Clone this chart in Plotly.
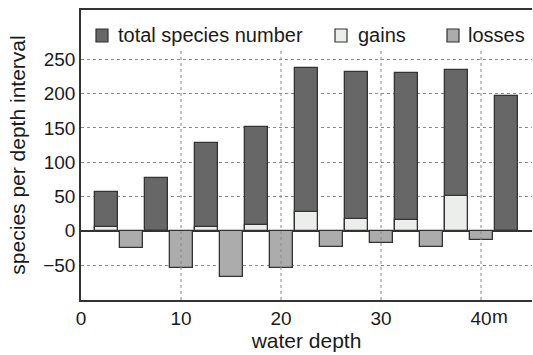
import plotly.graph_objects as go

# depth positions (m)
total_depth = [2.5, 7.5, 12.5, 17.5, 22.5, 27.5, 32.5, 37.5, 42.5]
total_species = [57, 77, 128, 151, 238, 231, 230, 234, 197]
gains = [5, 0, 6, 9, 28, 17, 15, 50, 0]
loss_depth = [5, 10, 15, 20, 25, 30, 35, 40]
losses = [-25, -54, -68, -55, -24, -18, -23, -14]

x_ticks = [0, 10, 20, 30, 40]
x_ticktext = ["0", "10", "20", "30", "40"]
y_ticks = [-50, 0, 50, 100, 150, 200, 250]

series_names = ["total species number", "gains", "losses"]
series_colors = ["#676767", "#eceeec", "#acacac"]

FONT = "Liberation Sans, Arial, Helvetica, sans-serif"
EDGE = "#333333"
TXT = "#1a1a1a"

W, H = 533, 355
ML, MR, MT, MB = 81, 1, 10, 55
PW, PH = W - ML - MR, H - MT - MB


def px2paper(px, py):
    return (px - ML) / PW, (H - MB - py) / PH


fig = go.Figure()
for xs, ys, nm, col in [(total_depth, total_species, series_names[0], series_colors[0]),
                        (total_depth, gains, series_names[1], series_colors[1]),
                        (loss_depth, losses, series_names[2], series_colors[2])]:
    fig.add_trace(go.Bar(x=xs, y=ys, width=2.3, name=nm, showlegend=False,
                         marker=dict(color=col, line=dict(color=EDGE, width=1.3))))

shapes = []
annotations = []

# vertical dotted grid lines drawn above the bars, starting below the legend
for xv in x_ticks[1:]:
    shapes.append(dict(type="line", xref="x", yref="y", x0=xv, x1=xv, y0=-101, y1=263,
                       line=dict(color="#8a8a8a", width=1, dash="dot"), layer="above"))

# legend (manual): square left edge px, text start px
legend_pos = [(96, 117), (335, 357), (447, 467)]
for (sq, tx), nm, col in zip(legend_pos, series_names, series_colors):
    x0, y0 = px2paper(sq, 42)
    x1, y1 = px2paper(sq + 12, 29)
    shapes.append(dict(type="rect", xref="paper", yref="paper", x0=x0, x1=x1, y0=y0, y1=y1,
                       fillcolor=col, line=dict(color=EDGE, width=1.2), layer="above"))
    tx_p, ty_p = px2paper(tx - 1, 35)
    annotations.append(dict(text=nm, xref="paper", yref="paper", x=tx_p, y=ty_p,
                            xanchor="left", yanchor="middle", showarrow=False,
                            font=dict(family=FONT, size=20, color=TXT)))

annotations.append(dict(text="m", xref="x", yref="paper", x=40, y=0, xanchor="left",
                        yanchor="top", xshift=9, yshift=-4, showarrow=False,
                        font=dict(family=FONT, size=19, color=TXT)))

fig.update_layout(
    width=W, height=H,
    margin=dict(l=ML, r=MR, t=MT, b=MB),
    paper_bgcolor="white", plot_bgcolor="white",
    barmode="overlay",
    bargap=0,
    showlegend=False,
    font=dict(family=FONT, size=19, color=TXT),
    xaxis=dict(range=[0, 45.1], tickvals=x_ticks, ticktext=x_ticktext,
               showgrid=False,
               showline=True, linecolor=EDGE, linewidth=1.5, mirror=True,
               ticks="", zeroline=False,
               title=dict(text="water depth", font=dict(size=21), standoff=0)),
    yaxis=dict(range=[-101, 322], tickvals=y_ticks,
               showgrid=True, gridcolor="#8a8a8a", griddash="dot", gridwidth=1,
               showline=True, linecolor=EDGE, linewidth=1.5,
               zeroline=True, zerolinecolor=EDGE, zerolinewidth=1.5,
               ticks="",
               title=dict(text="species per depth interval", font=dict(size=21), standoff=12)),
    shapes=shapes,
    annotations=annotations,
)

fig.write_html("out.html")
